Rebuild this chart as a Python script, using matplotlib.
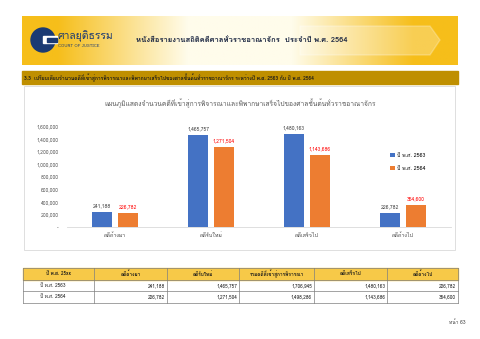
import numpy as np
import matplotlib.pyplot as plt
from matplotlib import font_manager
from matplotlib.ft2font import FT2Font
from matplotlib.patches import Rectangle, Circle, Polygon

# หาฟอนต์ที่มีอักษรไทย
def thai_families():
    found = []
    for f in font_manager.fontManager.ttflist:
        try:
            if 0x0E01 in FT2Font(f.fname).get_charmap() and f.name not in found:
                found.append(f.name)
        except Exception:
            pass
    return found

fams = thai_families()
plt.rcParams['font.family'] = fams + ['DejaVu Sans']

# ข้อมูล
categories = ['คดีค้างมา', 'คดีรับใหม่', 'คดีเสร็จไป', 'คดีค้างไป']
series_names = ['ปี พ.ศ. 2563', 'ปี พ.ศ. 2564']
v2563 = [241188, 1465757, 1480163, 226782]
v2564 = [226782, 1271504, 1143686, 354600]
total_2563 = 1706945
total_2564 = 1498286
yticks = [0, 200000, 400000, 600000, 800000, 1000000, 1200000, 1400000, 1600000]
table_header = ['ปี พ.ศ. 25xx', 'คดีค้างมา', 'คดีรับใหม่', 'รวมคดีที่เข้าสู่การพิจารณา', 'คดีเสร็จไป', 'คดีค้างไป']

blue = '#4472C4'
orange = '#ED7D31'
W, H = 480, 339

fig = plt.figure(figsize=(4.8, 3.39), dpi=100)
fig.patch.set_facecolor('white')

# พื้นหลังเป็นพิกัดพิกเซล
bg = fig.add_axes([0, 0, 1, 1])
bg.set_xlim(0, W)
bg.set_ylim(H, 0)
bg.axis('off')

# แถบหัวกระดาษ (ไล่สี)
pos = np.array([0, 0.08, 0.38, 0.62, 0.9, 1.0])
gold = np.array([246, 190, 26]) / 255
white = np.array([255, 252, 235]) / 255
cols = [gold, gold, white, white, gold, gold]
xs = np.linspace(0, 1, 300)
grad = np.array([np.interp(xs, pos, [c[i] for c in cols]) for i in range(3)]).T
bg.imshow(grad[np.newaxis, :, :], extent=[22, 458, 65, 16], aspect='auto', zorder=1)
bg.add_patch(Polygon([[300, 26], [430, 26], [440, 40], [430, 55], [300, 55]],
                     closed=True, color='white', alpha=0.25, zorder=2))

# โลโก้
bg.add_patch(Circle((43, 40), 12, color='#1B3A73', zorder=3))
bg.add_patch(Rectangle((43, 36), 14, 7, color='white', zorder=4))
bg.add_patch(Rectangle((47, 37.5), 10, 4, color='#1B3A73', zorder=5))
bg.text(57, 36, 'ศาลยุติธรรม', fontsize=7.5, color='#1B3A73', va='center', zorder=5)
bg.text(58, 46, 'COURT OF JUSTICE', fontsize=3, color='#1B3A73', va='center', zorder=5)
bg.text(136, 40, 'หนังสือรายงานสถิติคดีศาลทั่วราชอาณาจักร  ประจำปี พ.ศ. 2564',
        fontsize=5.5, fontweight='bold', color='#1F2A44', va='center', zorder=5)

# แถบหัวข้อ
bg.add_patch(Rectangle((22, 71), 436, 13, color='#BF8F00', zorder=1))
bg.text(24, 77.5, '3.3  เปรียบเทียบจำนวนคดีที่เข้าสู่การพิจารณาและพิพากษาเสร็จไปของศาลชั้นต้นทั่วราชอาณาจักร ระหว่างปี พ.ศ. 2563 กับ ปี พ.ศ. 2564',
        fontsize=3.6, fontweight='bold', color='#1A1A1A', va='center', zorder=2)

# กรอบกราฟ
bg.add_patch(Rectangle((24, 86), 431, 164, facecolor='white', edgecolor='#D9D9D9', lw=0.6, zorder=1))
bg.text(240, 104, 'แผนภูมิแสดงจำนวนคดีที่เข้าสู่การพิจารณาและพิพากษาเสร็จไปของศาลชั้นต้นทั่วราชอาณาจักร',
        fontsize=4.8, color='#595959', ha='center', va='center', zorder=2)

# กราฟแท่ง
ax = fig.add_axes([67 / W, 1 - 227 / H, 384 / W, 107 / H])
ax.patch.set_alpha(0)
x = np.arange(len(categories))
bw = 0.21
ax.bar(x - 0.135, v2563, bw, color=blue, label=series_names[0])
ax.bar(x + 0.135, v2564, bw, color=orange, label=series_names[1])
for i in range(len(categories)):
    ax.text(x[i] - 0.135, v2563[i] + 60000, f'{v2563[i]:,}', ha='center', va='bottom',
            fontsize=3.6, color='#404040')
    ax.text(x[i] + 0.135, v2564[i] + 60000, f'{v2564[i]:,}', ha='center', va='bottom',
            fontsize=3.6, color='#FF0000')
ax.set_xlim(-0.5, len(categories) - 0.5)
ax.set_ylim(0, 1700000)
ax.set_yticks(yticks)
ax.set_yticklabels(['-'] + [f'{v:,}' for v in yticks[1:]])
ax.set_xticks(x)
ax.set_xticklabels(categories)
ax.tick_params(axis='y', length=0, labelsize=3.6, labelcolor='#595959', pad=6)
ax.tick_params(axis='x', length=0, labelsize=3.8, labelcolor='#404040', pad=4)
for s in ['top', 'right', 'left']:
    ax.spines[s].set_visible(False)
ax.spines['bottom'].set_color('#D9D9D9')
ax.spines['bottom'].set_linewidth(0.6)
ax.legend(loc='upper left', bbox_to_anchor=(0.83, 0.74), frameon=False, fontsize=3.8,
          handlelength=0.8, handleheight=0.8, labelspacing=1.6, handletextpad=0.4)

# ตาราง
col_x = [23, 94, 167, 239, 314, 387, 458]
row_y = [268, 279.5, 291, 302.5]
bg.add_patch(Rectangle((23, 268), 435, 11.5, color='#F7C948', zorder=1))
for cx in col_x:
    bg.plot([cx, cx], [268, 302.5], color='#7F7F7F', lw=0.5, zorder=2)
for ry in row_y:
    bg.plot([23, 458], [ry, ry], color='#7F7F7F', lw=0.5, zorder=2)
for j, h in enumerate(table_header):
    bg.text((col_x[j] + col_x[j + 1]) / 2, 273.8, h, fontsize=3.4, fontweight='bold',
            color='#1A1A1A', ha='center', va='center', zorder=3)
rows = [
    [series_names[0]] + [f'{v:,}' for v in [v2563[0], v2563[1], total_2563, v2563[2], v2563[3]]],
    [series_names[1]] + [f'{v:,}' for v in [v2564[0], v2564[1], total_2564, v2564[2], v2564[3]]],
]
for r, row in enumerate(rows):
    yc = (row_y[r + 1] + row_y[r + 2]) / 2
    bg.text(40, yc, row[0], fontsize=3.4, color='#1A1A1A', va='center', zorder=3)
    for j in range(1, 6):
        bg.text(col_x[j + 1] - 2, yc, row[j], fontsize=3.4, color='#1A1A1A',
                ha='right', va='center', zorder=3)

bg.text(466, 322, 'หน้า 63', fontsize=3.6, color='#404040', ha='right', va='center')

plt.savefig('out.png', dpi=100)
